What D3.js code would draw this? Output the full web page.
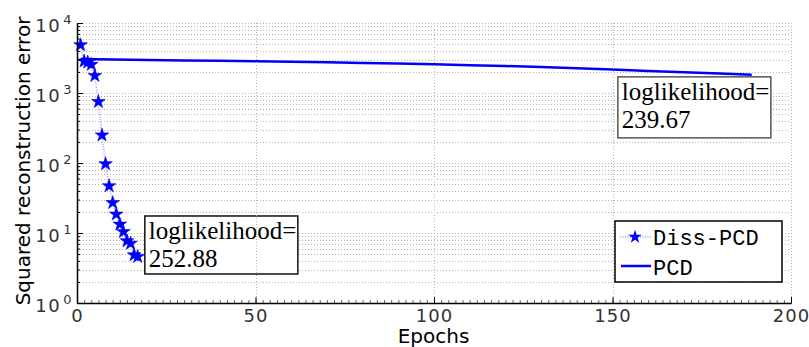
<!DOCTYPE html>
<html>
<head>
<meta charset="utf-8">
<script src="https://cdn.jsdelivr.net/npm/d3@7"></script>
<style>
  body { margin: 0; background: #fff; }
  svg { display: block; }
</style>
</head>
<body>
<div class="chart"></div>
<script>
// values
const dissEpochs = [1, 2, 3, 4, 5, 6, 7, 8, 9, 10, 11, 12, 13, 14, 15, 16, 17]
const dissError = [4850, 2850, 2750, 2550, 1770, 750, 250, 97, 47, 27, 18.5, 13.3, 10.4, 7.7, 7.1, 4.85, 4.6]

const pcdEpochs = [1, 10, 20, 30, 40, 50, 60, 70, 80, 90, 100, 110, 120, 130, 140, 150, 160, 170, 180, 189]
const pcdError = [3060, 3010, 2960, 2920, 2880, 2850, 2800, 2750, 2690, 2630, 2570, 2500, 2430, 2350, 2260, 2160, 2070, 1980, 1900, 1830]

const xTicks = [0, 50, 100, 150, 200]
const yDecades = [1, 10, 100, 1000, 10000]
const legendLabels = ['Diss-PCD', 'PCD']
// text boxes, anchored at their top-left corner in data units
const noteEpochs = [19, 151.5]
const noteValues = [17.5, 1700]
const noteLines = [['loglikelihood=', '252.88'], ['loglikelihood=', '239.67']]

const width = 809, height = 347
const margin = { top: 23, right: 18, bottom: 44, left: 77 }
const graphWidth = width - margin.left - margin.right
const graphHeight = height - margin.top - margin.bottom

const svg = d3.select('.chart')
  .append('svg')
  .attr('width', width)
  .attr('height', height)

const graph = svg.append('g')
  .attr('transform', `translate(${margin.left}, ${margin.top})`)

const x = d3.scaleLinear().domain([0, 200]).range([0, graphWidth])
const y = d3.scaleLog().domain([1, 10000]).range([graphHeight, 0])

// minor log values 2..9 per decade
const yMinor = []
yDecades.slice(0, -1).forEach(d => {
  for (let k = 2; k <= 9; k++) yMinor.push(d * k)
})

const gridColor = '#b4b4b4'

// horizontal grid
graph.append('g')
  .selectAll('line')
  .data(yDecades.concat(yMinor))
  .enter().append('line')
  .attr('x1', 0).attr('x2', graphWidth)
  .attr('y1', d => Math.round(y(d)) + 0.5).attr('y2', d => Math.round(y(d)) + 0.5)
  .attr('stroke', gridColor)
  .attr('stroke-width', 1)
  .attr('stroke-dasharray', '1,2')

// PCD line
const line = d3.line().x(d => x(d[0])).y(d => y(d[1]))
graph.append('path')
  .datum(pcdEpochs.map((e, i) => [e, pcdError[i]]))
  .attr('d', line)
  .attr('fill', 'none')
  .attr('stroke', '#0000ff')
  .attr('stroke-width', 2.5)

// Diss-PCD dotted line + stars
const dissData = dissEpochs.map((e, i) => [e, dissError[i]])
graph.append('path')
  .datum(dissData)
  .attr('d', line)
  .attr('fill', 'none')
  .attr('stroke', '#9a9aff')
  .attr('stroke-width', 1.5)
  .attr('stroke-dasharray', '1,1.5')

const star = d3.symbol().type(d3.symbolStar).size(58)
graph.append('g')
  .selectAll('path')
  .data(dissData)
  .enter().append('path')
  .attr('d', star)
  .attr('transform', d => `translate(${x(d[0])}, ${y(d[1])})`)
  .attr('fill', '#0000ff')
  .attr('stroke', '#0000e0')
  .attr('stroke-width', 0.6)

// annotation boxes
const noteFont = 'Liberation Serif, Times New Roman, serif'
const noteStroke = ['#111', '#555']
const noteHeight = [58, 61]
noteLines.forEach((lines, i) => {
  const bx = x(noteEpochs[i]), by = y(noteValues[i])
  const g = graph.append('g').attr('transform', `translate(${bx}, ${by})`)
  g.append('rect')
    .attr('width', 153)
    .attr('height', noteHeight[i])
    .attr('fill', '#fff')
    .attr('stroke', noteStroke[i])
    .attr('stroke-width', 1.5)
  lines.forEach((t, j) => {
    g.append('text')
      .attr('x', 4)
      .attr('y', 23 + j * 28)
      .attr('font-family', noteFont)
      .attr('font-size', 25)
      .attr('fill', '#000')
      .text(t)
  })
})

// vertical grid (drawn over the boxes, as in the original)
graph.append('g')
  .selectAll('line')
  .data(xTicks.slice(1))
  .enter().append('line')
  .attr('x1', d => Math.round(x(d)) + 0.5).attr('x2', d => Math.round(x(d)) + 0.5)
  .attr('y1', 0).attr('y2', graphHeight)
  .attr('stroke', gridColor)
  .attr('stroke-dasharray', '1,2')

// legend
const leg = svg.append('g').attr('transform', 'translate(615, 221)')
leg.append('rect')
  .attr('width', 167).attr('height', 61)
  .attr('fill', '#fff')
  .attr('stroke', '#000')
  .attr('stroke-width', 1.5)
leg.append('line')
  .attr('x1', 5).attr('x2', 36).attr('y1', 16).attr('y2', 16)
  .attr('stroke', '#9a9aff').attr('stroke-width', 1.5).attr('stroke-dasharray', '1,1.5')
leg.append('path')
  .attr('d', star)
  .attr('transform', 'translate(20, 16)')
  .attr('fill', '#0000ff')
leg.append('line')
  .attr('x1', 6).attr('x2', 36).attr('y1', 45).attr('y2', 45)
  .attr('stroke', '#0000ff').attr('stroke-width', 2.5)
legendLabels.forEach((t, i) => {
  leg.append('text')
    .attr('x', 38)
    .attr('y', 24 + i * 30)
    .attr('font-family', 'Liberation Mono, Courier New, monospace')
    .attr('font-size', 22)
    .attr('fill', '#000')
    .text(t)
})

// axes
const tickFont = 'DejaVu Sans, sans-serif'
const xAxisGroup = graph.append('g').attr('transform', `translate(0, ${graphHeight})`)
xAxisGroup.call(d3.axisBottom(x)
  .tickValues(d3.range(0, 201, 2))
  .tickSize(-3).tickSizeOuter(0).tickFormat(''))
xAxisGroup.selectAll('.tick line').attr('stroke', '#666')
const xMajor = graph.append('g').attr('transform', `translate(0, ${graphHeight})`)
xMajor.call(d3.axisBottom(x).tickValues(xTicks).tickSize(-6).tickSizeOuter(0).tickPadding(6))
xMajor.select('.domain').attr('stroke-width', 1.5)
xMajor.selectAll('.tick text')
  .attr('font-family', tickFont)
  .attr('font-size', 18)
  .attr('letter-spacing', 1)
  .attr('fill', '#333')

const yMinorGroup = graph.append('g')
yMinorGroup.call(d3.axisLeft(y).tickValues(yMinor).tickSize(-3).tickSizeOuter(0).tickFormat(''))
const yAxisGroup = graph.append('g')
yAxisGroup.call(d3.axisLeft(y).tickValues(yDecades).tickSize(-6).tickSizeOuter(0))
yAxisGroup.select('.domain').attr('stroke-width', 1.5)
yAxisGroup.selectAll('.tick text')
  .attr('font-family', tickFont)
  .attr('font-size', 18)
  .attr('letter-spacing', 1.5)
  .attr('fill', '#333')
  .attr('x', -4)
  .attr('dy', '0.45em')
  .each(function (d) {
    const t = d3.select(this)
    t.text('10')
    t.append('tspan')
      .attr('dy', '-0.55em')
      .attr('dx', 2)
      .attr('font-size', 13)
      .text(Math.round(Math.log10(d)))
  })

// axis titles
svg.append('text')
  .attr('x', margin.left + graphWidth / 2 - 0.5)
  .attr('y', 343)
  .attr('text-anchor', 'middle')
  .attr('font-family', tickFont)
  .attr('font-size', 20)
  .attr('fill', '#000')
  .text('Epochs')

svg.append('text')
  .attr('transform', `translate(30, ${margin.top + graphHeight / 2 - 2}) rotate(-90)`)
  .attr('text-anchor', 'middle')
  .attr('font-family', tickFont)
  .attr('font-size', 20)
  .attr('fill', '#000')
  .text('Squared reconstruction error')
</script>
</body>
</html>
